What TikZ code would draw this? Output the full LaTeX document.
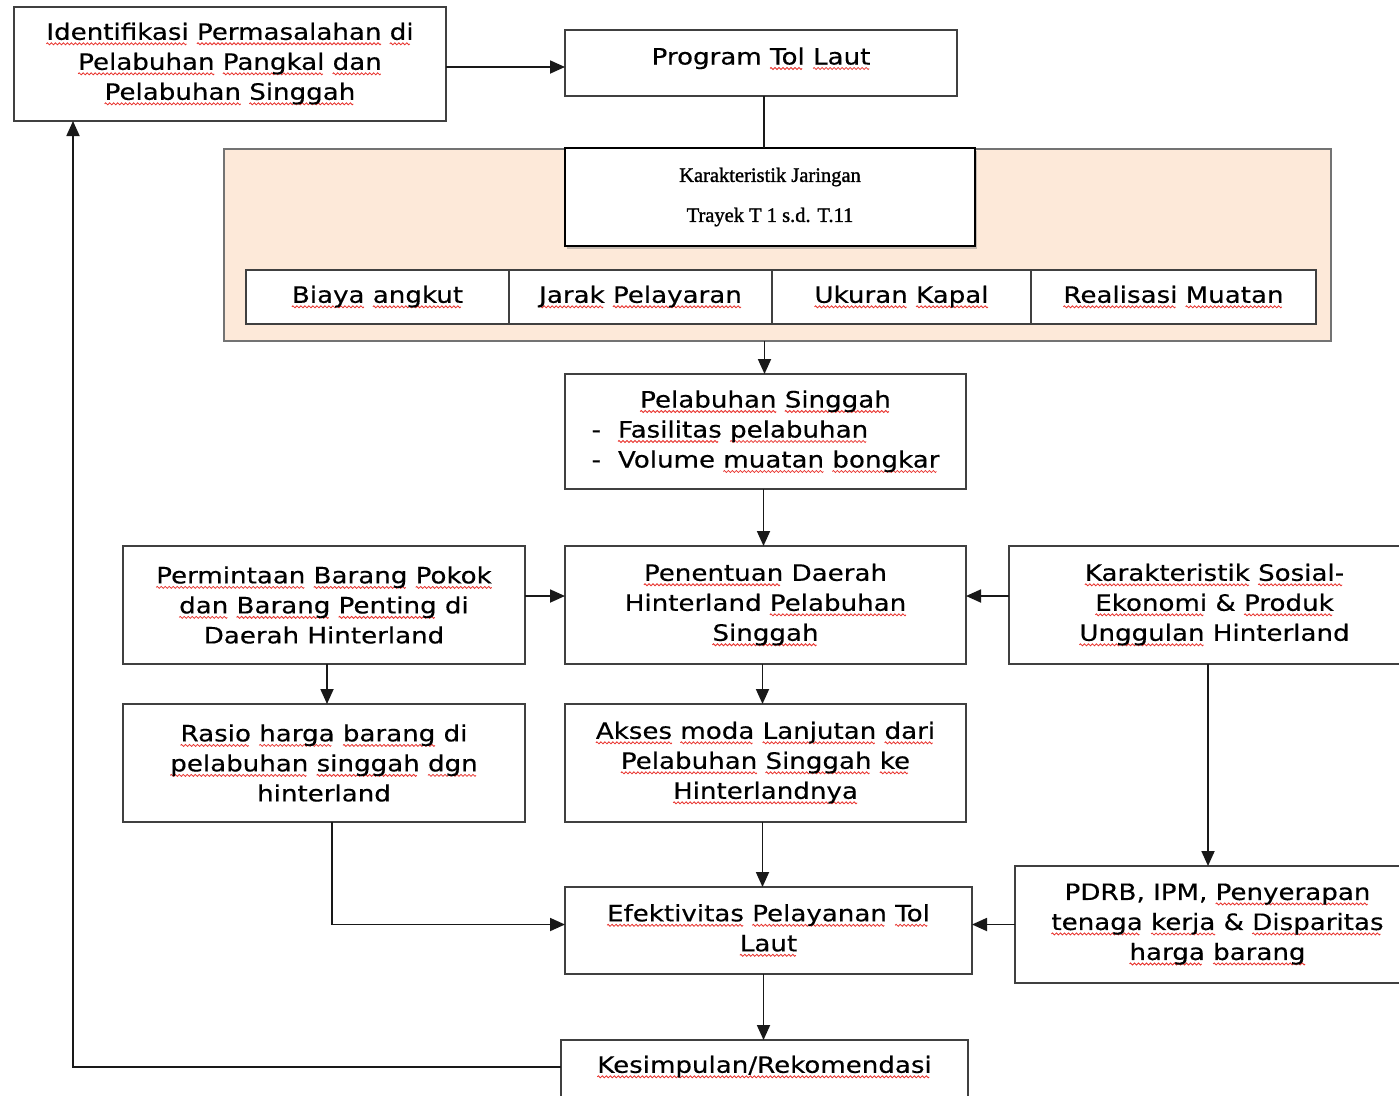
\documentclass[tikz,border=0pt]{standalone}
\usepackage{fontspec}
\usetikzlibrary{arrows.meta,shadows}
\setmainfont{DejaVu Sans}[FakeStretch=1.16,FakeBold=0.35]
\newfontfamily\serifk{Liberation Serif}[FakeBold=1.3]
\definecolor{peach}{HTML}{FDE9D9}
\definecolor{bord}{HTML}{404040}
\definecolor{sqred}{HTML}{E8302A}
\newsavebox\sqwordbox
\newsavebox\sqsegbox
\sbox\sqsegbox{\tikz[baseline=0pt,x=1pt,y=1pt]{\useasboundingbox (0,-1.5) rectangle (4,1.5);
  \draw[draw=sqred,line width=0.8pt,fill=none] (0,0) sin (1,1) cos (2,0) sin (3,-1) cos (4,0);}}
\newcommand\sq[1]{\sbox\sqwordbox{#1}\rlap{\lower4pt\hbox to \wd\sqwordbox{\leaders\copy\sqsegbox\hfill}}\usebox\sqwordbox}
\begin{document}
\begin{tikzpicture}[x=1pt,y=-1pt,
  box/.style={draw=bord,line width=1.7pt,fill=white,inner sep=0pt,outer sep=0pt,align=center,font=\fontsize{22.5}{30}\selectfont},
  conn/.style={line width=1.8pt,draw=black!90},
  arr/.style={conn,-{Triangle[length=15pt,width=13pt]}}]
\useasboundingbox (0,0) rectangle (1399,1095);
\clip (0,0) rectangle (1399,1095);
\fill[white] (0,0) rectangle (1399,1095);

\node[box,minimum width=432,minimum height=114] (ident) at (230,64)
  {\sq{Identifikasi} \sq{Permasalahan} \sq{di}\\ \sq{Pelabuhan} \sq{Pangkal} \sq{dan}\\ \sq{Pelabuhan} \sq{Singgah}};
\node[box,minimum width=392,minimum height=66,text height=16pt,text depth=13pt] (prog) at (761,63)
  {Program \sq{Tol} \sq{Laut}};

\node[draw=black!55,line width=1.6pt,fill=peach,minimum width=1107,minimum height=192,inner sep=0pt,outer sep=0pt] (peach) at (777.5,245) {};
\node[draw=black,line width=2.4pt,fill=white,minimum width=410,minimum height=98,inner sep=0pt,outer sep=0pt,align=center,
  drop shadow={shadow xshift=2pt,shadow yshift=-3pt,opacity=0.45},
  font=\serifk\fontsize{20.5}{40}\selectfont] (kj) at (770,197)
  {Karakteristik Jaringan\\Trayek T 1 s.d. T.11};

\node[box,minimum width=263,minimum height=54] (c1) at (377.5,297) {\sq{Biaya} \sq{angkut}};
\node[box,minimum width=263,minimum height=54] (c2) at (640.5,297) {\sq{Jarak} \sq{Pelayaran}};
\node[box,minimum width=259,minimum height=54] (c3) at (901.5,297) {\sq{Ukuran} \sq{Kapal}};
\node[box,minimum width=285,minimum height=54] (c4) at (1173.5,297) {\sq{Realisasi} \sq{Muatan}};

\node[box,minimum width=401,minimum height=115] (ps) at (765.5,431.5)
  {\begin{tabular}{@{}l@{\hspace{17pt}}l@{}}
   \multicolumn{2}{c}{\sq{Pelabuhan} \sq{Singgah}}\\
   - & \sq{Fasilitas} \sq{pelabuhan}\\
   - & Volume \sq{muatan} \sq{bongkar}
   \end{tabular}};

\node[box,minimum width=401,minimum height=118] (pen) at (765.5,605)
  {\sq{Penentuan} Daerah\\ Hinterland \sq{Pelabuhan}\\ \sq{Singgah}};
\node[box,minimum width=402,minimum height=118] (perm) at (324,605)
  {\sq{Permintaan} \sq{Barang} \sq{Pokok}\\ \sq{dan} \sq{Barang} \sq{Penting} di\\ Daerah Hinterland};
\node[box,minimum width=411,minimum height=118] (sos) at (1214.5,605)
  {\sq{Karakteristik} \sq{Sosial-}\\ \sq{Ekonomi} \& \sq{Produk}\\ \sq{Unggulan} Hinterland};

\node[box,minimum width=402,minimum height=118] (rasio) at (324,763)
  {\sq{Rasio} \sq{harga} \sq{barang} di\\ \sq{pelabuhan} \sq{singgah} \sq{dgn}\\ hinterland};
\node[box,minimum width=401,minimum height=118] (akses) at (765.5,763)
  {\sq{Akses} \sq{moda} \sq{Lanjutan} \sq{dari}\\ \sq{Pelabuhan} \sq{Singgah} \sq{ke}\\ \sq{Hinterlandnya}};

\node[box,minimum width=407,minimum height=87] (efek) at (768.5,930.5)
  {\sq{Efektivitas} \sq{Pelayanan} \sq{Tol}\\ \sq{Laut}};
\node[box,minimum width=405,minimum height=117] (pdrb) at (1217.5,924.5)
  {PDRB, IPM, \sq{Penyerapan}\\ \sq{tenaga} \sq{kerja} \& \sq{Disparitas}\\ \sq{harga} \sq{barang}};

\node[box,minimum width=407,minimum height=90] (kes) at (764.5,1085) {};
\node[font=\fontsize{22.5}{30}\selectfont,inner sep=0pt] (kestext) at (764.5,1067) {\sq{Kesimpulan/Rekomendasi}};

% connectors
\draw[arr] ([yshift=-3pt]ident.east) -- ([yshift=-3pt]ident.east -| prog.west);
\draw[conn] ([xshift=3pt]prog.south) -- ([xshift=3pt]prog.south |- kj.north);
\draw[arr] ([xshift=-1pt]ps.north |- peach.south) -- ([xshift=-1pt]ps.north);
\draw[arr] ([xshift=-2pt]ps.south) -- ([xshift=-2pt]pen.north);
\draw[arr] ([yshift=9pt]perm.east) -- ([yshift=9pt]pen.west);
\draw[arr] ([yshift=9pt]sos.west) -- ([yshift=9pt]pen.east);
\draw[arr] ([xshift=3pt]perm.south) -- ([xshift=3pt]rasio.north);
\draw[arr] ([xshift=-3pt]pen.south) -- ([xshift=-3pt]akses.north);
\draw[arr] ([xshift=-3pt]akses.south) -- ([xshift=-3pt]akses.south |- efek.north);
\draw[arr] ([xshift=8pt]rasio.south) |- ([yshift=6pt]efek.west);
\draw[arr] ([xshift=-6.5pt]sos.south) -- ([xshift=-6.5pt]sos.south |- pdrb.north);
\draw[arr] (pdrb.west) -- (pdrb.west -| efek.east);
\draw[arr] ([xshift=-5pt]efek.south) -- ([xshift=-5pt]efek.south |- kes.north);
\draw[arr] (kes.west |- kestext.center) -| ([xshift=-157pt]ident.south);
\end{tikzpicture}
\end{document}
